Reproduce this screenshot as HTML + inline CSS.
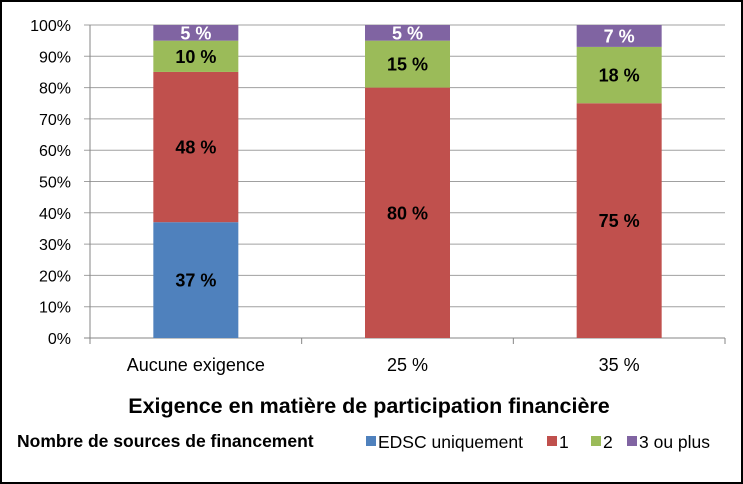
<!DOCTYPE html>
<html><head><meta charset="utf-8"><style>
html,body{margin:0;padding:0;background:#fff}
svg{display:block;font-family:"Liberation Sans",sans-serif}
</style></head><body>
<svg width="743" height="484">
<rect x="1" y="1" width="741" height="482" fill="#fff" stroke="#000" stroke-width="2"/>
<g id="grid"></g><g id="bars"></g><g id="axes"></g>
<text x="369" y="413" text-anchor="middle" font-size="21.5" font-weight="bold">Exigence en matière de participation financière</text>
<text x="17" y="447" font-size="17.5" font-weight="bold">Nombre de sources de financement</text>
<g id="legend"></g>
</svg>
<script>
const categories=["Aucune exigence","25 %","35 %"];
const seriesNames=["EDSC uniquement","1","2","3 ou plus"];
const edsc=[37,0,0];
const one=[48,80,75];
const two=[10,15,18];
const threePlus=[5,5,7];
const yTicks=[0,10,20,30,40,50,60,70,80,90,100];
const colors=["#4f81bd","#c0504d","#9bbb59","#8064a2"];
const labelColors=["#000","#000","#000","#fff"];
const series=[edsc,one,two,threePlus];
const NS="http://www.w3.org/2000/svg";
const X0=90,X1=725,Y0=338,Y1=25;
const y=v=>Y0-(v/100)*(Y0-Y1);
const bw=(X1-X0)/categories.length;
const xc=i=>X0+bw*(i+0.5);
function mk(t,a,p){const e=document.createElementNS(NS,t);for(const k in a)e.setAttribute(k,a[k]);p.appendChild(e);return e;}
const grid=document.getElementById('grid'),axes=document.getElementById('axes'),bars=document.getElementById('bars'),leg=document.getElementById('legend');
yTicks.forEach(t=>{
 const l=mk('line',{x1:X0-6,x2:X1,y1:y(t),y2:y(t),stroke:t===0?'#868686':'#a0a0a0','stroke-width':1},grid);
 
 
 const tx=mk('text',{x:71,y:y(t)+6,'text-anchor':'end','font-size':16},axes);tx.textContent=t+'%';
 
 
});
mk('line',{x1:X0,x2:X0,y1:Y1,y2:Y0,stroke:'#868686'},axes);
for(let i=0;i<=categories.length;i++){const l=mk('line',{x1:X0+bw*i,x2:X0+bw*i,y1:Y0,y2:Y0+6,stroke:'#868686'},axes);
 
 }
categories.forEach((c,i)=>{
 const tx=mk('text',{x:xc(i),y:371,'text-anchor':'middle','font-size':18},axes);tx.textContent=c;
 
 
 let cum=0;
 series.forEach((s,j)=>{
  const v=s[i];if(!v)return;
  const r=mk('rect',{x:xc(i)-42.5,width:85,y:y(cum+v),height:y(cum)-y(cum+v),fill:colors[j]},bars);
  
  
  const tl=mk('text',{x:xc(i),y:(y(cum)+y(cum+v))/2+6.5,'text-anchor':'middle','font-size':18,'font-weight':'bold',fill:labelColors[j]},bars);
  tl.textContent=v+' %';
  
  
  cum+=v;
 });
});
const lx=[366,547,591,627];
seriesNames.forEach((n,j)=>{
 const g=mk('g',{},leg);
 
 
 mk('rect',{x:lx[j],y:436,width:10,height:10,fill:colors[j]},g);
 const t=mk('text',{x:lx[j]+12,y:448,'font-size':17.5},g);t.textContent=n;
});
</script>
</body></html>
